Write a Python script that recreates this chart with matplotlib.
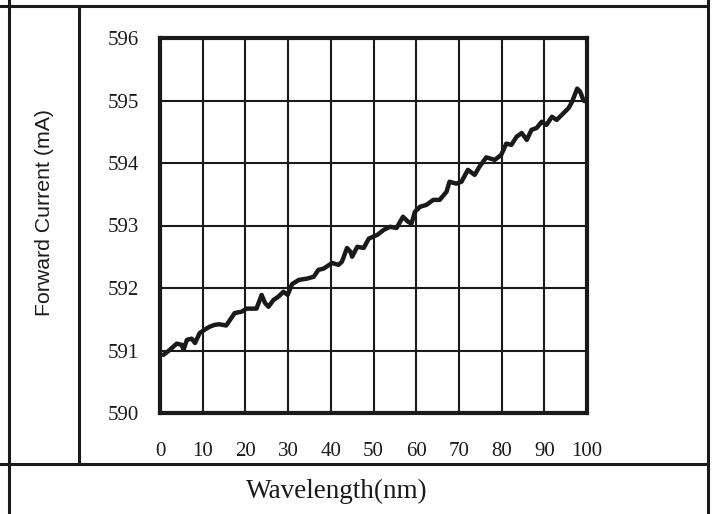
import numpy as np
import matplotlib
matplotlib.use("Agg")
import matplotlib.pyplot as plt
from matplotlib.lines import Line2D

# forward current trace vs wavelength
wavelength = [0.8, 2.3, 3.9, 5.1, 5.5, 6.3, 7.4, 8.2, 9.3, 10.4, 11.6, 12.8, 13.9,
              15.5, 16.7, 17.5, 19.1, 20.3, 22.6, 23.8, 24.6, 25.4, 26.6, 27.7,
              28.9, 29.9, 30.9, 32.5, 34.4, 36.0, 37.1, 38.3, 40.3, 41.8, 42.6,
              43.8, 44.6, 45.0, 46.2, 47.7, 48.9, 50.9, 52.4, 53.9, 55.4, 56.9,
              58.1, 58.9, 59.7, 60.9, 62.4, 64.0, 65.5, 67.1, 67.8, 69.4, 70.6,
              72.1, 73.7, 74.8, 76.4, 78.4, 79.9, 81.1, 82.3, 83.5, 84.7, 85.9,
              87.0, 88.2, 89.4, 90.5, 91.8, 92.9, 94.1, 95.7, 96.5, 97.7, 98.4,
              99.2, 100.0]
current = [590.93, 591.01, 591.11, 591.09, 591.01, 591.17, 591.19, 591.12, 591.28,
           591.33, 591.38, 591.41, 591.42, 591.40, 591.52, 591.60, 591.62, 591.67,
           591.67, 591.89, 591.76, 591.70, 591.81, 591.86, 591.94, 591.89, 592.06,
           592.13, 592.15, 592.18, 592.29, 592.31, 592.40, 592.37, 592.42, 592.64,
           592.58, 592.50, 592.66, 592.64, 592.79, 592.85, 592.93, 592.98, 592.96,
           593.14, 593.06, 593.03, 593.22, 593.30, 593.33, 593.41, 593.41, 593.54,
           593.70, 593.67, 593.70, 593.89, 593.81, 593.94, 594.09, 594.05, 594.13,
           594.31, 594.29, 594.42, 594.48, 594.37, 594.53, 594.56, 594.66, 594.61,
           594.74, 594.69, 594.77, 594.88, 594.98, 595.19, 595.14, 595.00, 594.98]

x_ticks = list(range(0, 101, 10))
y_ticks = [590, 591, 592, 593, 594, 595, 596]

W, H = 715, 514
fig = plt.figure(figsize=(W / 100, H / 100), dpi=100)
ax = fig.add_axes([160 / W, 1 - 413 / H, 427 / W, 375 / H])

ax.plot(wavelength, current, color="#1a1a1a", lw=3.2, solid_capstyle="round",
        solid_joinstyle="round", zorder=3)

ax.set_xlim(0, 100)
ax.set_ylim(590, 596)
ax.set_xticks(x_ticks)
ax.set_yticks(y_ticks)
ax.grid(True, color="#1a1a1a", lw=1.5)
ax.set_axisbelow(True)
ax.tick_params(length=0, labelsize=15, colors="#1a1a1a")
ax.tick_params(axis="x", pad=21)
ax.tick_params(axis="y", pad=15)
for lab in ax.get_xticklabels() + ax.get_yticklabels():
    lab.set_family("Liberation Serif")
for s in ax.spines.values():
    s.set_linewidth(3)
    s.set_color("#1a1a1a")

# table frame around the chart
def fline(x0, y0, x1, y1):
    fig.add_artist(Line2D([x0 / W, x1 / W], [1 - y0 / H, 1 - y1 / H],
                          color="#1a1a1a", lw=2.2))

fline(0, 5.5, 708, 5.5)
fline(0, 463.5, 708, 463.5)
fline(8.5, 0, 8.5, H)
fline(79, 5.5, 79, 463.5)
fline(708, 0, 708, H)

fig.text(45 / W, 1 - 212 / H, "Forward Current (mA)", rotation=90,
         ha="center", va="center", fontsize=15.3, family="Liberation Sans",
         color="#1a1a1a")
fig.text(337 / W, 1 - 491 / H, "Wavelength(nm)", ha="center", va="center",
         fontsize=19.5, family="Liberation Serif", color="#1a1a1a")

fig.savefig("out.png", dpi=100)
